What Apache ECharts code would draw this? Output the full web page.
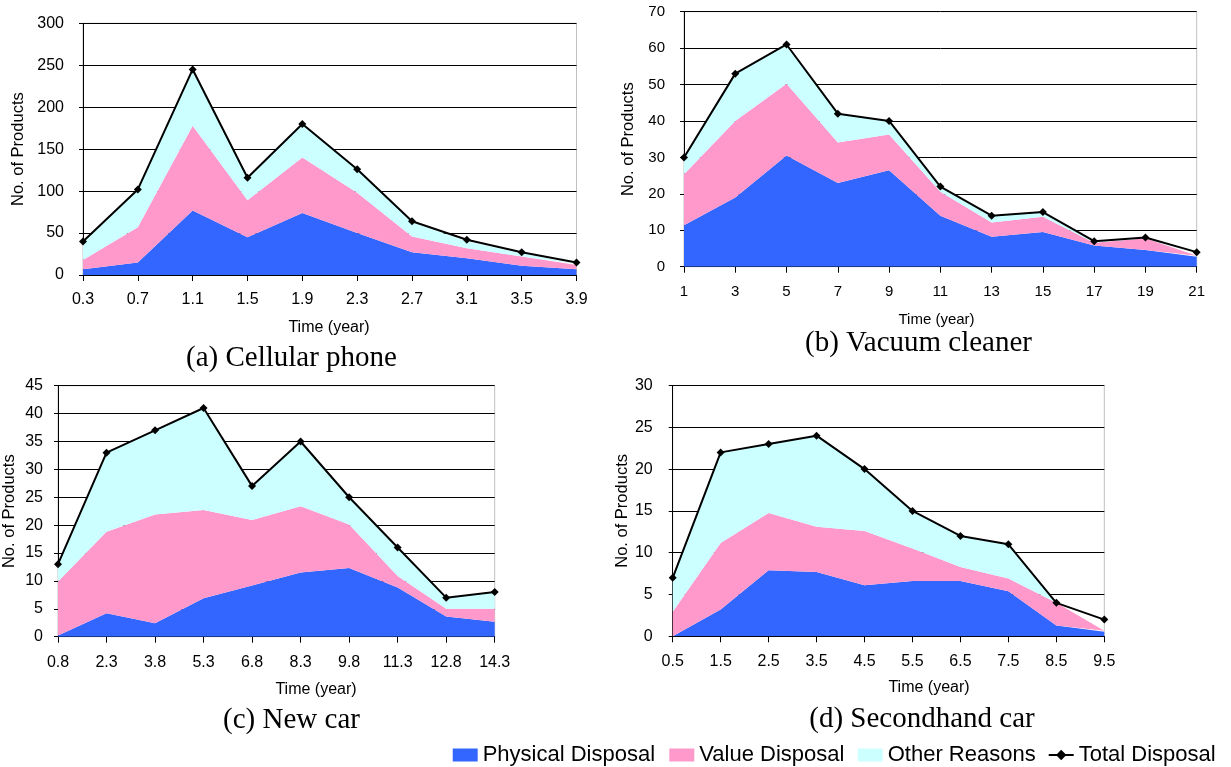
<!DOCTYPE html>
<html>
<head>
<meta charset="utf-8">
<script src="https://cdn.jsdelivr.net/npm/echarts@6/dist/echarts.min.js"></script>
<style>
html,body{margin:0;padding:0;background:#fff;}
#chart{width:1231px;height:767px;}
</style>
</head>
<body>
<div id="chart"></div>
<script>
// ---- data ----
var seriesNames = ['Physical Disposal', 'Value Disposal', 'Other Reasons', 'Total Disposal'];

var catA = ['0.3','0.7','1.1','1.5','1.9','2.3','2.7','3.1','3.5','3.9'];
var physA = [7, 15, 77, 45, 74, 50, 27, 20, 11, 7];
var valueA = [11, 42, 101, 44, 66, 48, 19, 12, 11, 5];
var otherA = [21, 44, 67, 27, 40, 28, 17, 8, 4, 1];
var totalA = [40, 102, 245, 116, 180, 126, 64, 42, 27, 15];

var catB = ['1','3','5','7','9','11','13','15','17','19','21'];
var physB = [11.4, 19, 30.5, 23, 26.5, 14, 8.2, 9.5, 5.8, 4.6, 2.7];
var valueB = [14, 21, 19.7, 11.1, 9.8, 6.6, 3.9, 4.2, 0.8, 3.2, 0.3];
var otherB = [4.6, 13, 10.8, 7.9, 3.7, 1.4, 1.9, 1.3, 0.4, 0.2, 0.5];
var totalB = [30, 53, 61, 42, 40, 22, 14, 15, 7, 8, 4];

var catC = ['0.8','2.3','3.8','5.3','6.8','8.3','9.8','11.3','12.8','14.3'];
var physC = [0.2, 4.2, 2.4, 6.9, 9.2, 11.5, 12.3, 8.8, 3.6, 2.7];
var valueC = [9.7, 14.6, 19.5, 15.8, 11.7, 11.9, 7.8, 2.1, 1.4, 2.3];
var otherC = [3.1, 14.2, 15.1, 18.3, 6.1, 11.6, 4.9, 5.1, 2.0, 3.0];
var totalC = [13, 33, 37, 41, 27, 35, 25, 16, 7, 8];

var catD = ['0.5','1.5','2.5','3.5','4.5','5.5','6.5','7.5','8.5','9.5'];
var physD = [0, 3.2, 7.9, 7.7, 6.1, 6.6, 6.6, 5.4, 1.3, 0.55];
var valueD = [2.95, 7.95, 6.85, 5.4, 6.5, 3.9, 1.7, 1.5, 2.7, 0.1];
var otherD = [4.05, 10.85, 8.25, 10.9, 7.4, 4.5, 3.7, 4.1, 0, 0];
var totalD = [7, 22, 23, 24, 20, 15, 12, 11, 4, 2];

var yMaxes = [300, 70, 45, 30];
var yIntervals = [50, 10, 5, 5];
var captions = ['(a) Cellular phone', '(b) Vacuum cleaner', '(c) New car', '(d) Secondhand car'];
var xName = 'Time (year)';
var yName = 'No. of Products';

// ---- layout / style ----
var SANS = 'Liberation Sans, Arial, sans-serif';
var SERIF = 'Liberation Serif, Times New Roman, serif';
var colors = ['#3366FF', '#FF99CC', '#CCFFFF', '#000000'];

var panels = [
  {cat: catA, phys: physA, val: valueA, oth: otherA, tot: totalA,
   grid: {left: 83, top: 23.3, width: 493.5, height: 251.7},
   tick: 16, ylm: 19, xlm: 17, ynameGap: 56,
   xname: [329, 327.5], cap: [291.5, 358]},
  {cat: catB, phys: physB, val: valueB, oth: otherB, tot: totalB,
   grid: {left: 684, top: 11.7, width: 512.7, height: 255},
   tick: 15, ylm: 19, xlm: 18, ynameGap: 47,
   xname: [936.5, 319.5], cap: [918.5, 343]},
  {cat: catC, phys: physC, val: valueC, oth: otherC, tot: totalC,
   grid: {left: 55.3, top: 385.7, width: 439.4, height: 251},
   tick: 16, ylm: 15, xlm: 18, ynameGap: 40,
   xname: [316, 690], cap: [291.5, 720]},
  {cat: catD, phys: physD, val: valueD, oth: otherD, tot: totalD,
   grid: {left: 672.7, top: 385.5, width: 431.6, height: 250.8},
   tick: 16, ylm: 20, xlm: 17, ynameGap: 40,
   xname: [929, 688], cap: [922, 719]}
];

var grids = [], xAxes = [], yAxes = [], series = [], graphics = [];

panels.forEach(function (p, i) {
  grids.push({
    left: p.grid.left, top: p.grid.top, width: p.grid.width, height: p.grid.height,
    show: true, borderColor: '#c0c0c0', borderWidth: 1, backgroundColor: 'transparent',
    containLabel: false
  });
  xAxes.push({
    type: 'category', gridIndex: i, data: p.cat, boundaryGap: false,
    axisLine: {lineStyle: {color: '#000', width: 1}},
    axisTick: {show: true, inside: false, length: 6, alignWithLabel: true, interval: 0, lineStyle: {color: '#000'}},
    axisLabel: {interval: 0, margin: p.xlm, color: '#000', fontSize: p.tick, fontFamily: SANS},
    splitLine: {show: false}
  });
  yAxes.push({
    type: 'value', gridIndex: i, min: 0, max: yMaxes[i], interval: yIntervals[i],
    name: yName, nameLocation: 'middle', nameGap: p.ynameGap, nameRotate: 90,
    nameTextStyle: {color: '#000', fontSize: 16.5, fontFamily: SANS},
    axisLine: {show: true, lineStyle: {color: '#000', width: 1}},
    axisTick: {show: true, length: 4, lineStyle: {color: '#000'}},
    axisLabel: {margin: p.ylm, color: '#000', fontSize: p.tick, fontFamily: SANS},
    splitLine: {show: true, lineStyle: {color: '#000', width: 1}}
  });
  var comps = [p.phys, p.val, p.oth];
  comps.forEach(function (arr, k) {
    series.push({
      name: seriesNames[k], type: 'line', xAxisIndex: i, yAxisIndex: i,
      stack: 'stack' + i, data: arr, symbol: 'none', showSymbol: false,
      color: colors[k],
      itemStyle: {color: colors[k]},
      lineStyle: {width: 0, color: colors[k]},
      areaStyle: {color: colors[k], opacity: 1},
      silent: true, animation: false, z: 2
    });
  });
  series.push({
    name: seriesNames[3], type: 'line', xAxisIndex: i, yAxisIndex: i,
    data: p.tot, symbol: 'diamond', symbolSize: 8, showSymbol: true,
    color: '#000', itemStyle: {color: '#000'},
    lineStyle: {width: 2, color: '#000'},
    animation: false, z: 5
  });
  graphics.push({
    type: 'text', x: p.xname[0], y: p.xname[1],
    style: {text: xName, fill: '#000', font: (i === 1 ? 15 : 16) + 'px ' + SANS,
            align: 'center', verticalAlign: 'middle', textAlign: 'center', textVerticalAlign: 'middle'}
  });
  graphics.push({
    type: 'text', x: p.cap[0], y: p.cap[1],
    style: {text: captions[i], fill: '#000', font: '29px ' + SERIF,
            align: 'center', verticalAlign: 'middle', textAlign: 'center', textVerticalAlign: 'middle'}
  });
});

var legendLefts = [452.7, 669.3, 857.7, 1047.7];
var legends = seriesNames.map(function (n, k) {
  return {
    data: [k < 3 ? {name: n, icon: 'rect'} : {name: n}],
    left: legendLefts[k], top: 744, padding: 0,
    itemWidth: 25, itemHeight: 13, selectedMode: false,
    textStyle: {color: '#000', fontSize: 22, fontFamily: SANS}
  };
});

var chart = echarts.init(document.getElementById('chart'), null, {renderer: 'canvas'});
chart.setOption({
  backgroundColor: '#fff',
  animation: false,
  grid: grids, xAxis: xAxes, yAxis: yAxes, series: series,
  legend: legends, graphic: graphics
});
</script>
</body>
</html>
